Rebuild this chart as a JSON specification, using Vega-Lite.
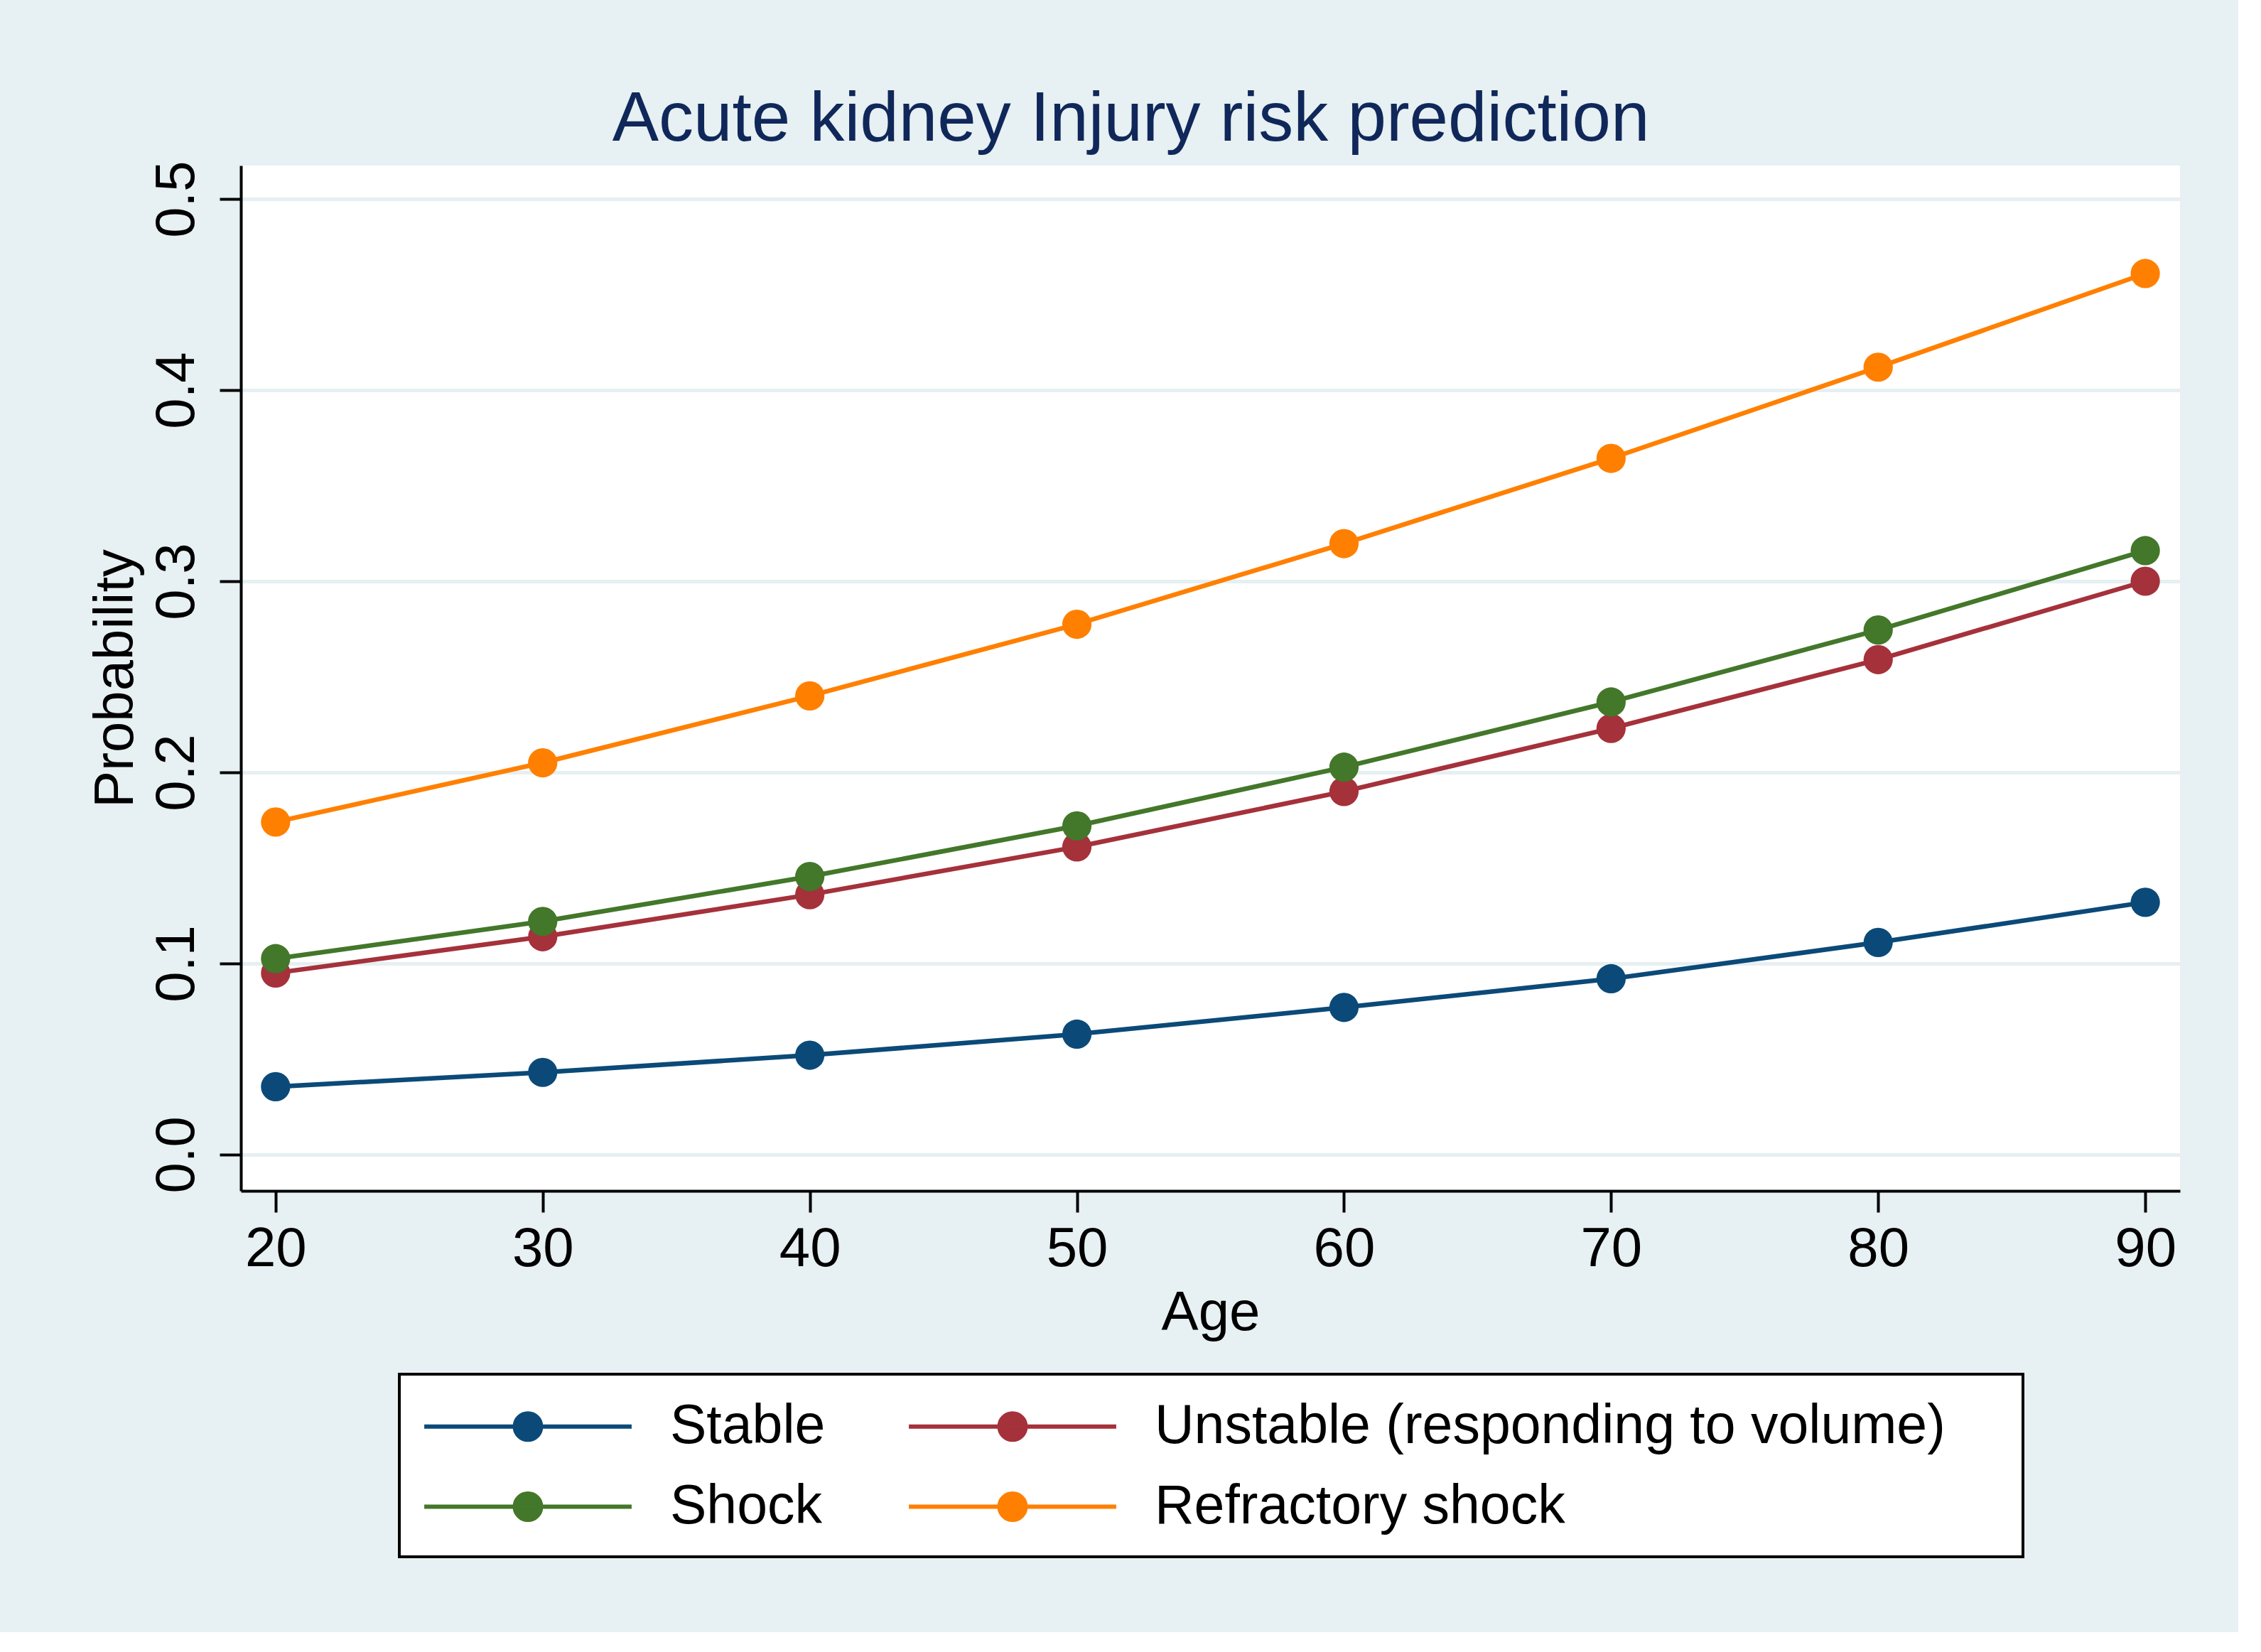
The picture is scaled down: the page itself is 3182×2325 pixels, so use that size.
{
  "$schema": "https://vega.github.io/schema/vega-lite/v6.json",
  "autosize": {"type": "none"},
  "width": 2729,
  "height": 1443,
  "padding": {"left": 339, "top": 233, "right": 82, "bottom": 621},
  "background": "#e7f0f2",
  "title": {
    "text": "Acute kidney Injury risk prediction",
    "font": "Liberation Sans",
    "fontSize": 98,
    "fontWeight": "normal",
    "color": "#10275a",
    "anchor": "middle",
    "frame": "group",
    "baseline": "alphabetic",
    "offset": 36,
    "dx": -112,
    "dy": 106
  },
  "data": {
    "values": [
      {"age": 20, "group": "Stable", "p": 0.0355},
      {"age": 30, "group": "Stable", "p": 0.043},
      {"age": 40, "group": "Stable", "p": 0.052},
      {"age": 50, "group": "Stable", "p": 0.063},
      {"age": 60, "group": "Stable", "p": 0.077},
      {"age": 70, "group": "Stable", "p": 0.092},
      {"age": 80, "group": "Stable", "p": 0.111},
      {"age": 90, "group": "Stable", "p": 0.132},
      {"age": 20, "group": "Unstable (responding to volume)", "p": 0.095},
      {"age": 30, "group": "Unstable (responding to volume)", "p": 0.114},
      {"age": 40, "group": "Unstable (responding to volume)", "p": 0.136},
      {"age": 50, "group": "Unstable (responding to volume)", "p": 0.161},
      {"age": 60, "group": "Unstable (responding to volume)", "p": 0.190},
      {"age": 70, "group": "Unstable (responding to volume)", "p": 0.223},
      {"age": 80, "group": "Unstable (responding to volume)", "p": 0.259},
      {"age": 90, "group": "Unstable (responding to volume)", "p": 0.300},
      {"age": 20, "group": "Shock", "p": 0.1025},
      {"age": 30, "group": "Shock", "p": 0.122},
      {"age": 40, "group": "Shock", "p": 0.1455},
      {"age": 50, "group": "Shock", "p": 0.172},
      {"age": 60, "group": "Shock", "p": 0.2027},
      {"age": 70, "group": "Shock", "p": 0.2368},
      {"age": 80, "group": "Shock", "p": 0.2745},
      {"age": 90, "group": "Shock", "p": 0.316},
      {"age": 20, "group": "Refractory shock", "p": 0.174},
      {"age": 30, "group": "Refractory shock", "p": 0.205},
      {"age": 40, "group": "Refractory shock", "p": 0.240},
      {"age": 50, "group": "Refractory shock", "p": 0.2775},
      {"age": 60, "group": "Refractory shock", "p": 0.3197},
      {"age": 70, "group": "Refractory shock", "p": 0.3643},
      {"age": 80, "group": "Refractory shock", "p": 0.412},
      {"age": 90, "group": "Refractory shock", "p": 0.461}
    ]
  },
  "encoding": {
    "x": {
      "field": "age",
      "type": "quantitative",
      "scale": {"domain": [18.7, 91.3], "nice": false, "zero": false},
      "axis": {
        "title": "Age",
        "values": [20, 30, 40, 50, 60, 70, 80, 90],
        "grid": false,
        "domainColor": "#000000",
        "domainWidth": 4,
        "tickColor": "#000000",
        "tickWidth": 4,
        "tickSize": 30,
        "labelFont": "Liberation Sans",
        "labelFontSize": 78,
        "labelColor": "#000000",
        "labelPadding": 13,
        "labelBaseline": "top",
        "titleFont": "Liberation Sans",
        "titleFontSize": 78,
        "titleFontWeight": "normal",
        "titleColor": "#000000",
        "titleBaseline": "alphabetic",
        "titleY": 195
      }
    },
    "y": {
      "field": "p",
      "type": "quantitative",
      "scale": {"domain": [-0.019, 0.5175], "nice": false, "zero": false},
      "axis": {
        "title": "Probability",
        "values": [0, 0.1, 0.2, 0.3, 0.4, 0.5],
        "format": ".1f",
        "grid": true,
        "gridColor": "#e6eff1",
        "gridWidth": 5,
        "domainColor": "#000000",
        "domainWidth": 4,
        "tickColor": "#000000",
        "tickWidth": 4,
        "tickSize": 30,
        "labelFont": "Liberation Sans",
        "labelFontSize": 78,
        "labelColor": "#000000",
        "labelAngle": -90,
        "labelAlign": "center",
        "labelBaseline": "alphabetic",
        "labelPadding": 37,
        "titleFont": "Liberation Sans",
        "titleFontSize": 78,
        "titleFontWeight": "normal",
        "titleColor": "#000000",
        "titleAngle": -90,
        "titleBaseline": "alphabetic",
        "titleX": -153
      }
    },
    "color": {
      "field": "group",
      "type": "nominal",
      "sort": ["Stable", "Unstable (responding to volume)", "Shock", "Refractory shock"],
      "scale": {
        "domain": ["Stable", "Unstable (responding to volume)", "Shock", "Refractory shock"],
        "range": ["#0b4a78", "#a5313b", "#43772a", "#ff8000"]
      },
      "legend": {
        "title": null,
        "orient": "none",
        "legendX": 223,
        "legendY": 1701,
        "direction": "horizontal",
        "columns": 2,
        "columnPadding": 28,
        "rowPadding": 33,
        "padding": 32,
        "strokeColor": "#000000",
        "fillColor": "#ffffff",
        "symbolType": "M-3.79,0L3.79,0M-0.48,0A0.48,0.48 0 1,0 0.48,0A0.48,0.48 0 1,0 -0.48,0Z",
        "symbolSize": 5929,
        "symbolOffset": 107.5,
        "symbolStrokeWidth": 6,
        "labelFont": "Liberation Sans",
        "labelFontSize": 77,
        "labelColor": "#000000",
        "labelOffset": 158.5,
        "labelLimit": 2000,
        "labelExpr": "datum.label + '\u2003\u200b'",
        "encode": {
          "legend": {
            "update": {
              "strokeWidth": {"value": 4}
            }
          },
          "symbols": {
            "update": {
              "fill": {"scale": "color", "field": "value"},
              "stroke": {"scale": "color", "field": "value"},
              "opacity": {"value": 1}
            }
          }
        }
      }
    }
  },
  "layer": [
    {"mark": {"type": "line", "strokeWidth": 6.5}},
    {"mark": {"type": "point", "filled": true, "size": 1700, "opacity": 1, "shape": "circle"}}
  ],
  "config": {
    "view": {"stroke": null, "fill": "#ffffff"}
  }
}
